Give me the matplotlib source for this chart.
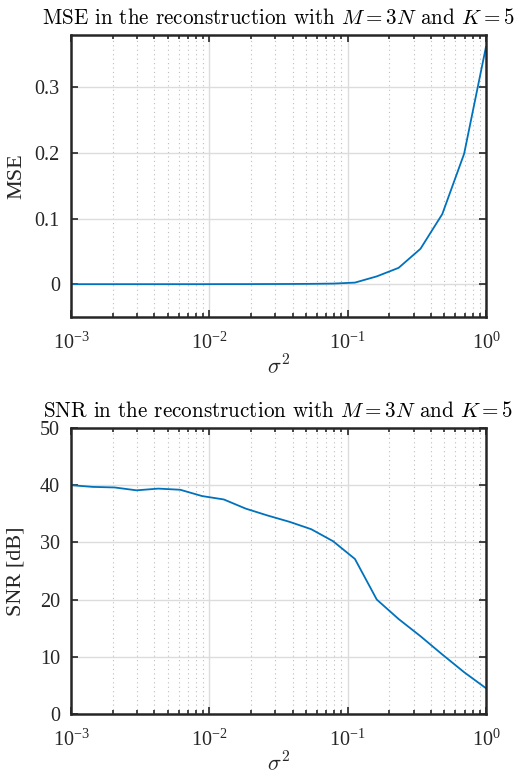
import math
import matplotlib
matplotlib.use('Agg')
import matplotlib.pyplot as plt
from matplotlib.ticker import LogLocator, FixedLocator, FuncFormatter, NullFormatter

plt.rcParams['mathtext.fontset'] = 'cm'
plt.rcParams['font.family'] = ['Liberation Serif', 'DejaVu Serif']

# noise variance (log spaced samples)
sigma2 = [0.001, 0.001438, 0.002069, 0.002976, 0.004281, 0.006158, 0.008859,
          0.012743, 0.018330, 0.026367, 0.037927, 0.054556, 0.078476, 0.112884,
          0.162378, 0.233572, 0.335982, 0.483293, 0.695193, 1.0]
mse = [0.0001, 0.0001, 0.0001, 0.0001, 0.0001, 0.0001, 0.0001, 0.0002, 0.0002,
       0.0003, 0.0004, 0.0006, 0.0010, 0.0025, 0.012, 0.025, 0.054, 0.107,
       0.199, 0.362]
snr = [40.0, 39.7, 39.6, 39.1, 39.4, 39.2, 38.1, 37.5, 35.9, 34.7, 33.6, 32.3,
       30.2, 27.1, 20.0, 16.6, 13.6, 10.4, 7.3, 4.5]

mse_ticks = [0, 0.1, 0.2, 0.3]
mse_labels = ['0', '0.1', '0.2', '0.3']
snr_ticks = [0, 10, 20, 30, 40, 50]
snr_labels = ['0', '10', '20', '30', '40', '50']

line_col = '#0072BD'
ax_col = '#262626'


def style(ax):
    ax.set_xscale('log')
    ax.set_xlim(1e-3, 1)
    ax.xaxis.set_major_locator(LogLocator(base=10, numticks=10))
    ax.xaxis.set_minor_locator(LogLocator(base=10, subs=range(2, 10), numticks=10))
    ax.xaxis.set_major_formatter(FuncFormatter(
        lambda v, p: r'$\mathregular{10^{%d}}$' % round(math.log10(v))))
    ax.xaxis.set_minor_formatter(NullFormatter())
    ax.grid(True, which='major', color='#dcdcdc', linewidth=1.0, linestyle='-')
    ax.grid(True, which='minor', axis='x', color='#bdbdbd', linewidth=0.8,
            linestyle=(0, (1, 3)))
    ax.set_axisbelow(True)
    ax.tick_params(which='both', direction='in', top=True, right=True,
                   colors=ax_col, labelcolor=ax_col, labelsize=14.5, width=1.2)
    ax.tick_params(which='major', length=5)
    ax.tick_params(which='minor', length=3)
    ax.tick_params(axis='x', which='major', pad=11)
    ax.tick_params(axis='y', which='major', pad=8)
    for s in ax.spines.values():
        s.set_color(ax_col)
        s.set_linewidth(1.8)
    ax.set_xlabel(r'$\sigma^2$', fontsize=16, color=ax_col, labelpad=1)


fig = plt.figure(figsize=(5.17, 7.78), dpi=100)
ax1 = fig.add_axes([0.1373, 0.5925, 0.8027, 0.3625])
ax2 = fig.add_axes([0.1373, 0.0823, 0.8027, 0.3676])

ax1.plot(sigma2, mse, color=line_col, linewidth=1.3)
style(ax1)
ax1.set_ylim(-0.05, 0.38)
ax1.yaxis.set_major_locator(FixedLocator(mse_ticks))
ax1.set_yticklabels(mse_labels)
ax1.set_ylabel('MSE', fontsize=16, color=ax_col, labelpad=6)
ax1.set_title(r'MSE in the reconstruction with $M=3N$ and $K=5$',
              fontsize=15.2, family='cmr10', color='black', pad=8)

ax2.plot(sigma2, snr, color=line_col, linewidth=1.3)
style(ax2)
ax2.set_ylim(0, 50)
ax2.yaxis.set_major_locator(FixedLocator(snr_ticks))
ax2.set_yticklabels(snr_labels)
ax2.set_ylabel('SNR [dB]', fontsize=16, color=ax_col, labelpad=10)
ax2.set_title(r'SNR in the reconstruction with $M=3N$ and $K=5$',
              fontsize=15.2, family='cmr10', color='black', pad=8)

fig.savefig('out.png', dpi=100)
